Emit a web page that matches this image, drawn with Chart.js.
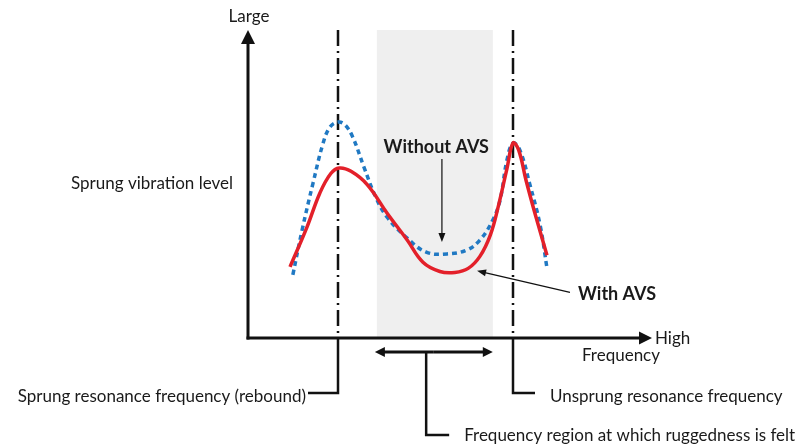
<!doctype html>
<html lang="en">
<head>
<meta charset="utf-8" />
<title>Sprung vibration level vs frequency</title>
<script src="https://cdn.jsdelivr.net/npm/chart.js@4"></script>
<style>
  body { margin: 0; background: #fff; }
  #wrap { width: 797px; height: 445px; position: relative; }
</style>
</head>
<body>
<div id="wrap"><canvas id="chart"></canvas></div>
<script>
// Schematic: frequency (0..100, low -> high) vs sprung vibration level (0..100, small -> large)
const freqWithout  = [11.1, 13.4, 16.1, 18.6, 20.3, 22.3, 24.0, 25.9, 28.7, 31.6, 34.4, 39.1, 44.1, 49.3, 54.2, 57.4, 60.6, 62.4, 64.1, 65.6, 67.3, 69.8, 72.3, 74.0];
const levelWithout = [20.5, 35.1, 50.3, 63.3, 68.5, 70.1, 69.2, 65.3, 55.5, 45.8, 39.3, 32.8, 27.9, 27.3, 28.6, 31.8, 38.3, 44.8, 57.8, 63.3, 61.0, 49.7, 36.7, 22.7];
const freqWith     = [10.4, 14.6, 17.8, 20.5, 22.6, 25.5, 29.5, 34.4, 39.4, 43.3, 47.5, 51.2, 54.5, 57.4, 60.0, 62.0, 64.1, 65.6, 67.0, 68.8, 71.0, 74.0];
const levelWith    = [23.1, 36.0, 47.1, 53.4, 55.2, 54.1, 49.8, 40.6, 31.8, 24.6, 21.6, 21.3, 22.6, 26.5, 33.5, 43.0, 55.0, 63.3, 61.0, 51.3, 40.6, 26.9];
const sprungResonance = 22.3;
const unsprungResonance = 65.6;
const ruggedRegion = [31.9, 60.6];

const RED = "#e3202a";
const BLUE = "#2079c3";
const FONT = "Lato, 'Open Sans', sans-serif";

function arrowHead(ctx, x1, y1, x2, y2, len, half) {
  const a = Math.atan2(y2 - y1, x2 - x1);
  ctx.beginPath();
  ctx.moveTo(x2, y2);
  ctx.lineTo(x2 - len * Math.cos(a) + half * Math.sin(a), y2 - len * Math.sin(a) - half * Math.cos(a));
  ctx.lineTo(x2 - len * Math.cos(a) - half * Math.sin(a), y2 - len * Math.sin(a) + half * Math.cos(a));
  ctx.closePath();
  ctx.fill();
}

function arrow(ctx, x1, y1, x2, y2, width, len, half) {
  const a = Math.atan2(y2 - y1, x2 - x1);
  ctx.lineWidth = width;
  ctx.beginPath();
  ctx.moveTo(x1, y1);
  ctx.lineTo(x2 - (len - 1) * Math.cos(a), y2 - (len - 1) * Math.sin(a));
  ctx.stroke();
  arrowHead(ctx, x1, y1, x2, y2, len, half);
}

function text(ctx, s, x, y, align, size, weight) {
  ctx.font = (weight || "normal") + " " + size + "px " + FONT;
  ctx.textAlign = align;
  ctx.textBaseline = "middle";
  ctx.fillText(s, x, y);
}

const schematic = {
  id: "schematic",
  beforeDatasetsDraw(chart) {
    const { ctx, chartArea: ca, scales: { x } } = chart;
    ctx.save();
    // shaded region where ruggedness is felt
    const r0 = x.getPixelForValue(ruggedRegion[0]);
    const r1 = x.getPixelForValue(ruggedRegion[1]);
    ctx.fillStyle = "#efefef";
    ctx.fillRect(r0, ca.top, r1 - r0, ca.bottom - ca.top);

    // resonance dash-dot lines
    ctx.strokeStyle = "#111";
    ctx.lineWidth = 2.5;
    ctx.setLineDash([16, 5, 2, 5]);
    for (const f of [sprungResonance, unsprungResonance]) {
      const px = Math.round(x.getPixelForValue(f));
      ctx.beginPath();
      ctx.moveTo(px, ca.top);
      ctx.lineTo(px, ca.bottom);
      ctx.stroke();
    }
    ctx.restore();
  },
  afterDatasetsDraw(chart) {
    const { ctx, chartArea: ca, scales: { x, y } } = chart;
    const ax = ca.left, ay = ca.bottom;
    ctx.save();
    ctx.strokeStyle = "#111";
    ctx.fillStyle = "#111";
    ctx.lineCap = "butt";

    // axes with arrows
    arrow(ctx, ax, ay + 1.5, ax, ca.top, 3, 14, 7);
    arrow(ctx, ax - 1.5, ay, ca.right, ay, 3, 13, 6.5);

    // leader lines below the axis
    const sp = Math.round(x.getPixelForValue(sprungResonance));
    const up = Math.round(x.getPixelForValue(unsprungResonance));
    ctx.lineWidth = 2.5;
    ctx.beginPath();
    ctx.moveTo(sp, ay); ctx.lineTo(sp, ay + 55); ctx.lineTo(sp - 30, ay + 55);
    ctx.moveTo(up, ay); ctx.lineTo(up, ay + 55); ctx.lineTo(up + 22, ay + 55);
    ctx.stroke();

    // double arrow under the shaded region
    const r0 = x.getPixelForValue(ruggedRegion[0]) - 2;
    const r1 = x.getPixelForValue(ruggedRegion[1]);
    const by = ay + 14;
    const mid = (r0 + r1) / 2;
    arrow(ctx, mid, by, r0, by, 3, 10, 5);
    arrow(ctx, mid, by, r1, by, 3, 10, 5);
    const bx = x.getPixelForValue(44.1);
    ctx.lineWidth = 2.5;
    ctx.beginPath();
    ctx.moveTo(bx, by); ctx.lineTo(bx, ay + 97); ctx.lineTo(bx + 23, ay + 97);
    ctx.stroke();

    // callout arrows
    arrow(ctx, x.getPixelForValue(48.0), y.getPixelForValue(58.1), x.getPixelForValue(48.0), y.getPixelForValue(31.2), 1.2, 9, 3.5);
    arrow(ctx, x.getPixelForValue(79.7), y.getPixelForValue(14.8), x.getPixelForValue(56.7), y.getPixelForValue(21.8), 1.2, 9, 3.5);

    // labels
    ctx.fillStyle = "#1a1a1a";
    text(ctx, "Large", ax + 1, 17, "center", 17);
    text(ctx, "High", ca.right + 3, ay + 1, "left", 17);
    text(ctx, "Frequency", ca.right + 8, ay + 18, "right", 17);
    text(ctx, "Sprung vibration level", 233, 184, "right", 17);
    text(ctx, "Without AVS", x.getPixelForValue(46.6), 147, "center", 18, "bold");
    text(ctx, "With AVS", 578, 294, "left", 18, "bold");
    text(ctx, "Sprung resonance frequency (rebound)", sp - 32, ay + 59, "right", 17);
    text(ctx, "Unsprung resonance frequency", up + 37, ay + 59, "left", 17);
    text(ctx, "Frequency region at which ruggedness is felt", bx + 38, ay + 98, "left", 17);
    ctx.restore();
  }
};

new Chart(document.getElementById("chart"), {
  type: "line",
  data: {
    datasets: [
      {
        label: "With AVS",
        data: freqWith.map((f, i) => ({ x: f, y: levelWith[i] })),
        borderColor: RED,
        borderWidth: 3.5,
        pointRadius: 0,
        tension: 0.4,
        fill: false,
      },
      {
        label: "Without AVS",
        data: freqWithout.map((f, i) => ({ x: f, y: levelWithout[i] })),
        borderColor: BLUE,
        borderWidth: 3.5,
        borderDash: [5, 4],
        pointRadius: 0,
        tension: 0.4,
        fill: false,
      },
    ],
  },
  options: {
    responsive: true,
    maintainAspectRatio: false,
    animation: false,
    layout: { padding: { left: 248, right: 145, top: 30, bottom: 107 } },
    plugins: { legend: { display: false }, tooltip: { enabled: false } },
    scales: {
      x: { type: "linear", min: 0, max: 100, display: false },
      y: { type: "linear", min: 0, max: 100, display: false },
    },
  },
  plugins: [schematic],
});
</script>
</body>
</html>
